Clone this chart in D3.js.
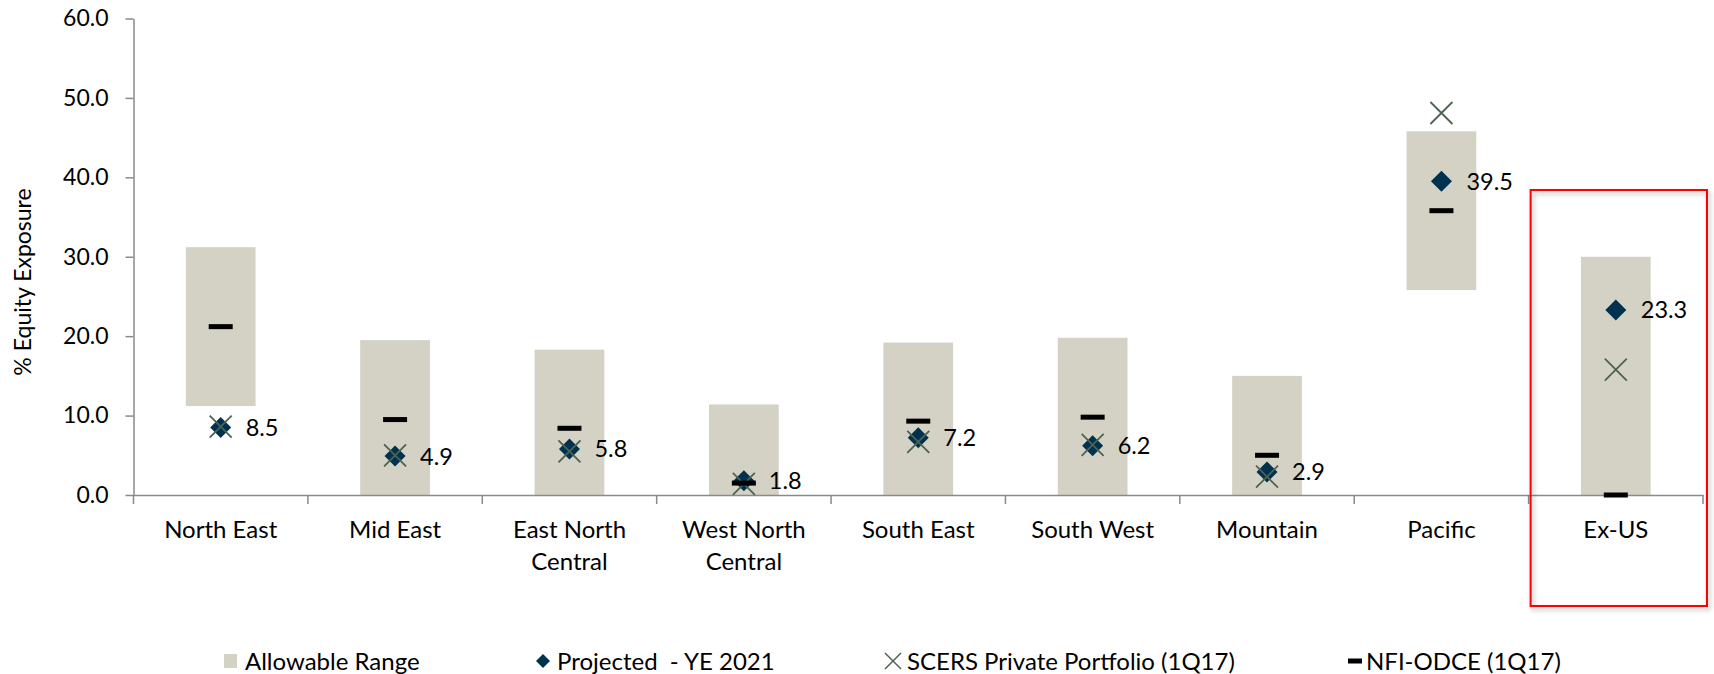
<!DOCTYPE html>
<html>
<head>
<meta charset="utf-8">
<script src="https://cdn.jsdelivr.net/npm/d3@7"></script>
<style>
  html, body { margin: 0; padding: 0; background: #ffffff; }
  svg { display: block; font-family: Lato, "Open Sans", sans-serif; }
</style>
</head>
<body>
<svg id="chart" width="1714" height="674"></svg>
<script>
// Regions (a "\n" marks a line break in the axis label)
const categories = [
  "North East", "Mid East", "East North\nCentral", "West North\nCentral",
  "South East", "South West", "Mountain", "Pacific", "Ex-US"
];
// Allowable range, low and high bound (% equity exposure)
const rangeLow  = [11.2, 0.0, 0.0, 0.0, 0.0, 0.0, 0.0, 25.8, 0.0];
const rangeHigh = [31.2, 19.5, 18.3, 11.4, 19.2, 19.8, 15.0, 45.8, 30.0];
// Projected - YE 2021
const projected = [8.5, 4.9, 5.8, 1.8, 7.2, 6.2, 2.9, 39.5, 23.3];
// SCERS Private Portfolio (1Q17)
const scers = [8.6, 5.0, 5.5, 1.4, 6.7, 6.3, 2.3, 48.1, 15.8];
// NFI-ODCE (1Q17)
const nfi = [21.2, 9.5, 8.4, 1.5, 9.3, 9.8, 5.0, 35.8, 0.0];
// Y axis ticks
const yTicks = [0, 10, 20, 30, 40, 50, 60];
// Legend entries
const legendLabels = ["Allowable Range", "Projected  - YE 2021", "SCERS Private Portfolio (1Q17)", "NFI-ODCE (1Q17)"];

const colors = {
  range: "#d4d2c5",
  projected: "#00324f",
  scers: "#4e6252",
  nfi: "#000000",
  axis: "#8a8a8a",
  text: "#000000"
};

const svg = d3.select("#chart");
const fontSize = 23;

const x = d3.scaleBand().domain(categories).range([133.5, 1703]).paddingInner(0).paddingOuter(0);
const y = d3.scaleLinear().domain([0, 60]).range([495, 18.5]);

const barW = x.bandwidth() * 0.4;
const cx = c => x(c) + x.bandwidth() / 2;

const rows = categories.map((c, i) => ({
  c, lo: rangeLow[i], hi: rangeHigh[i], p: projected[i], s: scers[i], n: nfi[i]
}));

// Y axis
const yAxis = svg.append("g")
  .attr("transform", `translate(${x.range()[0]},0)`)
  .call(d3.axisLeft(y).tickValues(yTicks).tickFormat(d3.format(".1f")).tickSize(8).tickSizeOuter(0).tickPadding(17));
yAxis.select(".domain").attr("stroke", colors.axis).attr("stroke-width", 1.5);
yAxis.selectAll(".tick line").attr("stroke", colors.axis).attr("stroke-width", 1.5);
yAxis.selectAll(".tick text").attr("fill", colors.text).style("font-size", fontSize + "px").style("font-family", "Lato, sans-serif");

// Y axis title
svg.append("text")
  .attr("transform", `translate(31,282) rotate(-90)`)
  .attr("text-anchor", "middle")
  .attr("fill", colors.text)
  .style("font-size", fontSize + "px")
  .text("% Equity Exposure");

// Allowable range bars
svg.append("g").selectAll("rect").data(rows).join("rect")
  .attr("x", d => cx(d.c) - barW / 2)
  .attr("width", barW)
  .attr("y", d => y(d.hi))
  .attr("height", d => y(d.lo) - y(d.hi))
  .attr("fill", colors.range);

// X axis (baseline + category labels); boundary ticks drawn separately
const xAxis = svg.append("g")
  .attr("transform", `translate(0,${y(0)})`)
  .call(d3.axisBottom(x).tickSize(0).tickSizeOuter(0).tickPadding(0));
xAxis.select(".domain").attr("stroke", colors.axis).attr("stroke-width", 1.5);
xAxis.selectAll(".tick text").each(function(d) {
  const t = d3.select(this);
  const lines = d.split("\n");
  t.text(null).attr("y", 0).attr("dy", null)
    .attr("fill", colors.text).style("font-size", "24px").style("font-family", "Lato, sans-serif");
  lines.forEach((ln, k) => {
    t.append("tspan").attr("x", 0).attr("y", 43 + k * 32).text(ln);
  });
});
const bounds = categories.map(c => x(c)).concat([x.range()[1]]);
svg.append("g").selectAll("line").data(bounds).join("line")
  .attr("x1", d => d).attr("x2", d => d)
  .attr("y1", y(0)).attr("y2", y(0) + 9)
  .attr("stroke", colors.axis).attr("stroke-width", 1.5);

// Projected diamonds
const diamond = (px, py, r) => `M${px},${py - r}L${px + r},${py}L${px},${py + r}L${px - r},${py}Z`;
svg.append("g").selectAll("path").data(rows).join("path")
  .attr("d", d => diamond(cx(d.c), y(d.p), 10.5))
  .attr("fill", colors.projected);

// SCERS crosses
const cross = (px, py, r) => `M${px - r},${py - r}L${px + r},${py + r}M${px - r},${py + r}L${px + r},${py - r}`;
svg.append("g").selectAll("path").data(rows).join("path")
  .attr("d", d => cross(cx(d.c), y(d.s), 11))
  .attr("fill", "none")
  .attr("stroke", colors.scers)
  .attr("stroke-width", 1.8);

// NFI-ODCE dashes
svg.append("g").selectAll("rect").data(rows).join("rect")
  .attr("x", d => cx(d.c) - 12)
  .attr("y", d => y(d.n) - 2.5)
  .attr("width", 24)
  .attr("height", 5)
  .attr("fill", colors.nfi);

// Data labels for projected values
svg.append("g").selectAll("text").data(rows).join("text")
  .attr("x", d => cx(d.c) + 25)
  .attr("y", d => y(d.p))
  .attr("dy", "0.36em")
  .attr("fill", colors.text)
  .style("font-size", "23.5px")
  .text(d => d3.format(".1f")(d.p));

// Legend
const legendY = 661;
const legendX = [224, 536, 885, 1348];
const lg = svg.append("g");
lg.append("rect").attr("x", legendX[0]).attr("y", legendY - 7).attr("width", 13).attr("height", 14).attr("fill", colors.range);
lg.append("path").attr("d", diamond(legendX[1] + 7, legendY, 7)).attr("fill", colors.projected);
lg.append("path").attr("d", cross(legendX[2] + 8, legendY, 8)).attr("stroke", colors.scers).attr("stroke-width", 1.5).attr("fill", "none");
lg.append("rect").attr("x", legendX[3]).attr("y", legendY - 2.5).attr("width", 14).attr("height", 5).attr("fill", colors.nfi);
const textOffsets = [21, 21, 22, 18];
lg.selectAll("text").data(legendLabels).join("text")
  .attr("x", (d, i) => legendX[i] + textOffsets[i])
  .attr("y", legendY)
  .attr("dy", "0.36em")
  .attr("fill", colors.text)
  .style("font-size", "24px")
  .style("white-space", "pre")
  .text(d => d);

// Highlight frame around Ex-US
const defs = svg.append("defs");
defs.append("filter").attr("id", "frameShadow").attr("x", "-10%").attr("y", "-10%").attr("width", "120%").attr("height", "120%")
  .append("feDropShadow").attr("dx", 2).attr("dy", 3).attr("stdDeviation", 2.5)
  .attr("flood-color", "#000").attr("flood-opacity", 0.3);
const exUS = categories[categories.length - 1];
svg.append("rect")
  .attr("x", x(exUS) + 2)
  .attr("y", 190)
  .attr("width", x.bandwidth() + 2)
  .attr("height", 416)
  .attr("fill", "none")
  .attr("stroke", "#ff0000")
  .attr("stroke-width", 2)
  .attr("filter", "url(#frameShadow)");
</script>
</body>
</html>
